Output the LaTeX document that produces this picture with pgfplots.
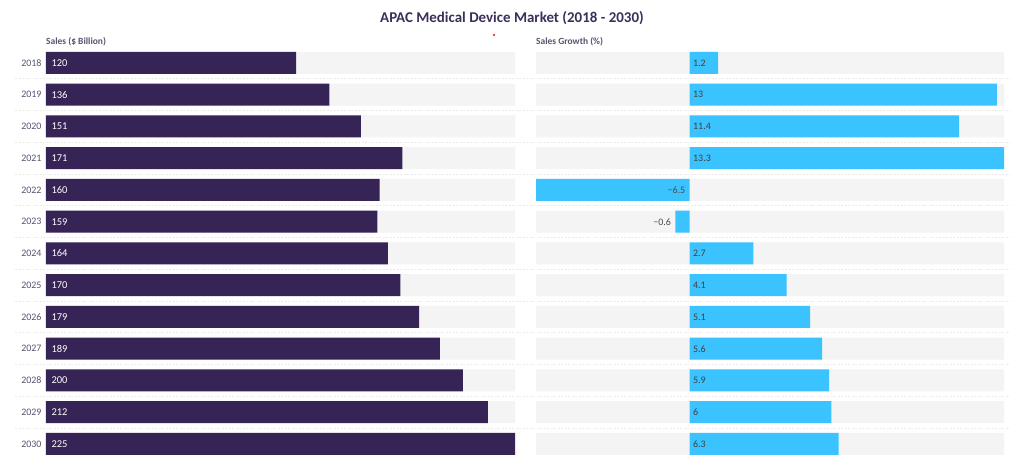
\documentclass[border=0pt]{standalone}
\usepackage{fontspec}
\setmainfont{Carlito}
\usepackage{pgfplots}
\usepackage{pgfplotstable}
\pgfplotsset{compat=1.18}
\definecolor{apacpurple}{HTML}{372456}
\definecolor{apacblue}{HTML}{3AC3FF}
\definecolor{panelgrey}{HTML}{F4F4F4}
\definecolor{yeargrey}{HTML}{5B5270}
\definecolor{titlepurple}{HTML}{3B2F5A}

% idx 0 = 2018 (top row)
\pgfplotstableread{
idx year sales full
0  2018 120 225
1  2019 136 225
2  2020 151 225
3  2021 171 225
4  2022 160 225
5  2023 159 225
6  2024 164 225
7  2025 170 225
8  2026 179 225
9  2027 189 225
10 2028 200 225
11 2029 212 225
12 2030 225 225
}\salestable

\pgfplotstableread{
idx growth pos neg
0  1.2  13.3 -6.5
1  13   13.3 -6.5
2  11.4 13.3 -6.5
3  13.3 13.3 -6.5
4  -6.5 13.3 -6.5
5  -0.6 13.3 -6.5
6  2.7  13.3 -6.5
7  4.1  13.3 -6.5
8  5.1  13.3 -6.5
9  5.6  13.3 -6.5
10 5.9  13.3 -6.5
11 6    13.3 -6.5
12 6.3  13.3 -6.5
}\growthtable

% labels for the growth bars: positives start at zero, negatives end at zero
\pgfplotstableread{
idx x lab
0  0 1.2
1  0 13
2  0 11.4
3  0 13.3
6  0 2.7
7  0 4.1
8  0 5.1
9  0 5.6
10 0 5.9
11 0 6
12 0 6.3
}\growthpos

\pgfplotstableread{
idx x lab
4 0    −6.5
5 -0.6 −0.6
}\growthneg

\pgfplotsset{
    panel/.style={
        scale only axis,
        height=412.75bp,
        ymin=-0.5, ymax=12.5,
        y dir=reverse,
        bar width=22bp,
        axis line style={draw=none},
        tick style={draw=none},
        xtick=\empty,
        clip=false,
    },
    bgbar/.style={xbar, bar shift=0pt, fill=panelgrey, draw=none},
}

\begin{document}
\begin{tikzpicture}
\path[use as bounding box, fill=white] (0,0) rectangle (1024bp,468bp);

% row separators
\foreach \k in {0,...,11}{
    \draw[color=black!8, line width=0.8bp, dash pattern=on 2bp off 1.5bp]
        (15bp,{468bp-(78.9bp+31.75bp*\k)}) -- (1010bp,{468bp-(78.9bp+31.75bp*\k)});
}

\node[font=\bfseries\fontsize{15}{18}\selectfont, color=titlepurple] at (512bp,450bp)
    {APAC Medical Device Market (2018 - 2030)};
\node[anchor=west, inner sep=0pt, font=\bfseries\fontsize{9.5}{11}\selectfont, color=yeargrey]
    at (46bp,426bp) {Sales (\$ Billion)};
\node[anchor=west, inner sep=0pt, font=\bfseries\fontsize{9.5}{11}\selectfont, color=yeargrey]
    at (536bp,426bp) {Sales Growth (\%)};
\fill[red] (494bp,433bp) circle (1.1bp);

% left panel: sales
\begin{axis}[
    panel,
    at={(46bp,420.9bp)}, anchor=north west,
    width=469bp,
    xmin=0, xmax=225,
    ytick={0,...,12},
    yticklabels={2018,2019,2020,2021,2022,2023,2024,2025,2026,2027,2028,2029,2030},
    yticklabel style={font=\fontsize{10}{12}\selectfont, color=yeargrey, xshift=-1bp},
]
\addplot[bgbar] table[x=full, y=idx] {\salestable};
\addplot[xbar, bar shift=0pt, fill=apacpurple, draw=none] table[x=sales, y=idx] {\salestable};
\addplot[only marks, mark=none, nodes near coords, point meta=explicit symbolic,
    nodes near coords style={anchor=west, xshift=2bp, color=white,
        font=\fontsize{10.5}{12}\selectfont}]
    table[x expr=0, y=idx, meta=sales] {\salestable};
\end{axis}

% right panel: sales growth
\begin{axis}[
    panel,
    at={(536bp,420.9bp)}, anchor=north west,
    width=468bp,
    xmin=-6.5, xmax=13.3,
    ytick=\empty,
]
\addplot[bgbar] table[x=pos, y=idx] {\growthtable};
\addplot[bgbar] table[x=neg, y=idx] {\growthtable};
\addplot[xbar, bar shift=0pt, fill=apacblue, draw=none] table[x=growth, y=idx] {\growthtable};
\addplot[only marks, mark=none, nodes near coords, point meta=explicit symbolic,
    nodes near coords style={anchor=west, xshift=0bp, color=black!75,
        font=\fontsize{10}{12}\selectfont}]
    table[x=x, y=idx, meta=lab] {\growthpos};
\addplot[only marks, mark=none, nodes near coords, point meta=explicit symbolic,
    nodes near coords style={anchor=east, xshift=-1bp, color=black!70,
        font=\fontsize{10}{12}\selectfont}]
    table[x=x, y=idx, meta=lab] {\growthneg};
\end{axis}
\end{tikzpicture}
\end{document}
